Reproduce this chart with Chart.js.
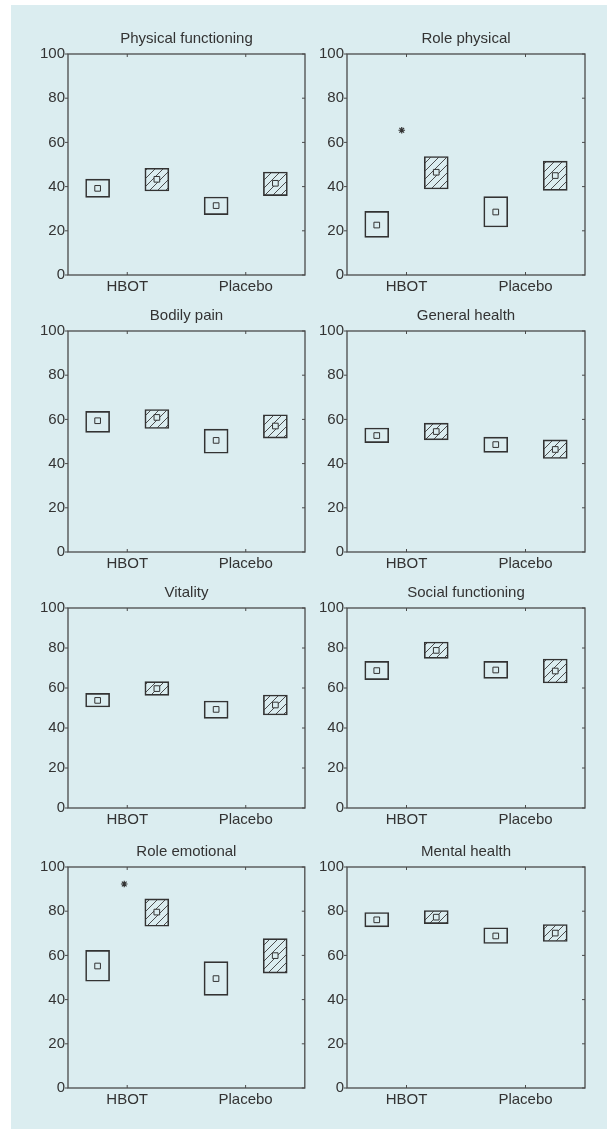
<!DOCTYPE html>
<html>
<head>
<meta charset="utf-8">
<script src="https://cdn.jsdelivr.net/npm/chart.js@4.4.0/dist/chart.umd.min.js"></script>
<style>
  html, body { margin: 0; padding: 0; background: #ffffff; }
  body { width: 609px; height: 1129px; position: relative; overflow: hidden; }
  #bg { position: absolute; left: 11px; top: 5px; right: 2px; bottom: 0; background: #dbedf0; }
  canvas { position: absolute; }
</style>
</head>
<body>
<div id="bg"></div>
<script>
const groups = ['HBOT', 'Placebo'];
const panels = [
  'Physical functioning', 'Role physical',
  'Bodily pain', 'General health',
  'Vitality', 'Social functioning',
  'Role emotional', 'Mental health'
];
const yTicks = [0, 20, 40, 60, 80, 100];

// box positions on the x axis (HBOT, Placebo)
const baseX = [0.5, 2.5];
const followX = [1.5, 3.5];

// open boxes: [HBOT, Placebo] per panel
const baseLow = [[35.1, 27.3], [17.0, 21.7], [54.1, 44.7], [49.5, 45.1], [50.5, 44.8], [64.2, 64.8], [48.3, 41.9], [72.9, 65.4]];
const baseHigh = [[43.4, 35.3], [28.8, 35.5], [63.6, 55.6], [56.1, 52.0], [57.3, 53.5], [73.3, 73.3], [62.3, 57.2], [79.4, 72.5]];
const baseMean = [[39.2, 31.4], [22.6, 28.5], [59.4, 50.5], [52.7, 48.6], [53.8, 49.3], [68.7, 69.0], [55.2, 49.5], [76.1, 68.8]];

// hatched boxes: [HBOT, Placebo] per panel
const followLow = [[38.0, 35.9], [38.9, 38.3], [55.9, 51.5], [50.7, 42.3], [56.3, 46.5], [74.8, 62.5], [73.2, 52.0], [74.4, 66.3]];
const followHigh = [[48.3, 46.6], [53.6, 51.5], [64.5, 62.1], [58.3, 50.7], [63.2, 56.5], [83.0, 74.5], [85.6, 67.6], [80.3, 74.0]];
const followMean = [[43.3, 41.5], [46.5, 45.0], [60.9, 57.0], [54.5, 46.4], [59.7, 51.5], [78.8, 68.5], [79.6, 59.9], [77.3, 70.1]];

// significance stars
const stars = [null, { x: 0.92, y: 65.5 }, null, null, null, null, { x: 0.95, y: 92.3 }, null];

const BG = '#dbedf0';
const INK = '#333333';
const FONT = "'Liberation Sans', Arial, sans-serif";

const cols = [
  { left: 30, plotLeft: 68, plotRight: 306, right: 310 },
  { left: 310, plotLeft: 347, plotRight: 585, right: 600 }
];
const rows = [
  { plotTop: 54, plotBottom: 275 },
  { plotTop: 331, plotBottom: 552 },
  { plotTop: 608, plotBottom: 808 },
  { plotTop: 867, plotBottom: 1088 }
];
const TITLE_H = 32;
const XAXIS_H = 24;

function hatch() {
  const s = 8;
  const c = document.createElement('canvas');
  c.width = s;
  c.height = s;
  const g = c.getContext('2d');
  g.strokeStyle = '#3a3a3a';
  g.lineWidth = 0.9;
  g.beginPath();
  g.moveTo(0, s); g.lineTo(s, 0);
  g.moveTo(-1, 1); g.lineTo(1, -1);
  g.moveTo(s - 1, s + 1); g.lineTo(s + 1, s - 1);
  g.stroke();
  return g.createPattern(c, 'repeat');
}

const frameTicks = {
  id: 'frameTicks',
  afterDraw(chart) {
    const { ctx, chartArea: a } = chart;
    const x = chart.scales.x;
    const y = chart.scales.y;
    ctx.save();
    ctx.strokeStyle = '#4a4a4a';
    ctx.lineWidth = 1.3;
    ctx.strokeRect(a.left, a.top, a.right - a.left, a.bottom - a.top);
    ctx.lineWidth = 1;
    ctx.beginPath();
    y.ticks.forEach(function (t) {
      const py = y.getPixelForValue(t.value);
      ctx.moveTo(a.left - 3, py); ctx.lineTo(a.left, py);
      ctx.moveTo(a.right - 3, py); ctx.lineTo(a.right, py);
    });
    x.ticks.forEach(function (t) {
      const px = x.getPixelForValue(t.value);
      ctx.moveTo(px, a.top); ctx.lineTo(px, a.top + 3);
      ctx.moveTo(px, a.bottom); ctx.lineTo(px, a.bottom - 3);
    });
    ctx.stroke();
    ctx.restore();
  }
};

function makePanel(i) {
  const col = cols[i % 2];
  const row = rows[Math.floor(i / 2)];
  const width = col.right - col.left;
  const height = TITLE_H + (row.plotBottom - row.plotTop) + XAXIS_H;

  const canvas = document.createElement('canvas');
  canvas.width = width;
  canvas.height = height;
  canvas.style.left = col.left + 'px';
  canvas.style.top = (row.plotTop - TITLE_H) + 'px';
  canvas.style.width = width + 'px';
  canvas.style.height = height + 'px';
  document.body.appendChild(canvas);

  const datasets = [
    {
      type: 'scatter',
      order: 0,
      data: groups.map(function (g, k) { return { x: baseX[k], y: baseMean[i][k] }; })
        .concat(groups.map(function (g, k) { return { x: followX[k], y: followMean[i][k] }; })),
      pointStyle: 'rect',
      pointRadius: 4,
      backgroundColor: BG,
      borderColor: INK,
      borderWidth: 1
    },
    {
      type: 'bar',
      order: 2,
      data: groups.map(function (g, k) { return { x: baseX[k], y: [baseLow[i][k], baseHigh[i][k]] }; }),
      backgroundColor: 'rgba(0,0,0,0)',
      borderColor: INK,
      borderWidth: 1,
      borderSkipped: false,
      barThickness: 24,
      grouped: false
    },
    {
      type: 'bar',
      order: 2,
      data: groups.map(function (g, k) { return { x: followX[k], y: [followLow[i][k], followHigh[i][k]] }; }),
      backgroundColor: hatch(),
      borderColor: INK,
      borderWidth: 1,
      borderSkipped: false,
      barThickness: 24,
      grouped: false
    }
  ];

  if (stars[i]) {
    datasets.push({
      type: 'scatter',
      order: 0,
      data: [stars[i]],
      pointStyle: 'star',
      pointRadius: 3.3,
      borderColor: INK,
      borderWidth: 1.2
    });
  }

  new Chart(canvas, {
    type: 'bar',
    data: { datasets: datasets },
    options: {
      responsive: false,
      animation: false,
      events: [],
      layout: { padding: { top: 0, left: 0, bottom: 0, right: col.right - col.plotRight } },
      plugins: {
        legend: { display: false },
        tooltip: { enabled: false },
        title: {
          display: true,
          text: panels[i],
          fullSize: false,
          color: INK,
          font: { family: FONT, size: 15, weight: 'normal', lineHeight: 1.2 },
          padding: { top: 8, bottom: 6 }
        }
      },
      scales: {
        x: {
          type: 'linear',
          min: 0,
          max: 4,
          offset: false,
          grid: { display: false, drawTicks: false, tickLength: 0 },
          border: { display: false },
          afterBuildTicks: function (scale) {
            scale.ticks = groups.map(function (g, k) { return { value: k * 2 + 1 }; });
          },
          afterFit: function (scale) { scale.height = XAXIS_H; },
          ticks: {
            color: INK,
            padding: 3,
            maxRotation: 0,
            font: { family: FONT, size: 15 },
            callback: function (v) { return groups[(v - 1) / 2]; }
          }
        },
        y: {
          min: 0,
          max: 100,
          grid: { display: false, tickLength: 3 },
          border: { display: false },
          afterBuildTicks: function (scale) {
            scale.ticks = yTicks.map(function (v) { return { value: v }; });
          },
          afterFit: function (scale) { scale.width = col.plotLeft - col.left; },
          ticks: {
            color: INK,
            padding: 0,
            font: { family: FONT, size: 15 }
          }
        }
      }
    },
    plugins: [frameTicks]
  });
}

panels.forEach(function (p, i) { makePanel(i); });
</script>
</body>
</html>
